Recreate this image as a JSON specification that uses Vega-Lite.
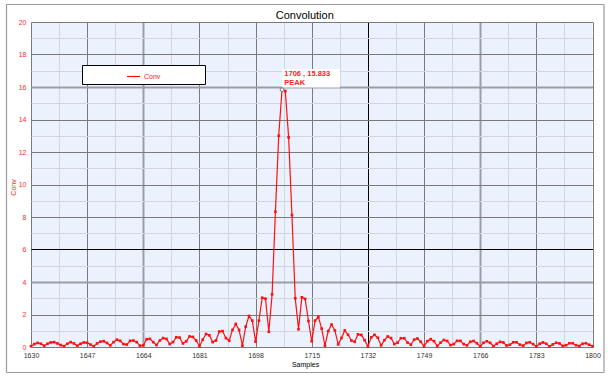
{
  "$schema": "https://vega.github.io/schema/vega-lite/v6.json",
  "autosize": "none",
  "width": 561.5,
  "height": 325,
  "padding": {"left": 31, "top": 22, "right": 20.5, "bottom": 32},
  "background": "white",
  "title": {"text": "Convolution", "font": "Liberation Sans", "fontSize": 11, "fontWeight": "normal", "color": "#000000", "anchor": "middle", "dx": -7, "dy": 29.5, "baseline": "bottom", "offset": 2},
  "config": {"view": {"fill": "#ecf2fd", "stroke": null}, "font": "Liberation Sans"},
  "datasets": {
    "conv": [
      {"sample":1630,"conv":0.05},{"sample":1631,"conv":0.18},{"sample":1632,"conv":0.25},{"sample":1633,"conv":0.2},{"sample":1634,"conv":0.08},
      {"sample":1635,"conv":0.2},{"sample":1636,"conv":0.28},{"sample":1637,"conv":0.3},{"sample":1638,"conv":0.22},{"sample":1639,"conv":0.12},
      {"sample":1640,"conv":0.05},{"sample":1641,"conv":0.2},{"sample":1642,"conv":0.3},{"sample":1643,"conv":0.22},{"sample":1644,"conv":0.08},
      {"sample":1645,"conv":0.2},{"sample":1646,"conv":0.28},{"sample":1647,"conv":0.26},{"sample":1648,"conv":0.15},{"sample":1649,"conv":0.05},
      {"sample":1650,"conv":0.22},{"sample":1651,"conv":0.33},{"sample":1652,"conv":0.36},{"sample":1653,"conv":0.25},{"sample":1654,"conv":0.1},
      {"sample":1655,"conv":0.3},{"sample":1656,"conv":0.45},{"sample":1657,"conv":0.38},{"sample":1658,"conv":0.18},{"sample":1659,"conv":0.15},
      {"sample":1660,"conv":0.38},{"sample":1661,"conv":0.4},{"sample":1662,"conv":0.3},{"sample":1663,"conv":0.08},{"sample":1664,"conv":0.1},
      {"sample":1665,"conv":0.48},{"sample":1666,"conv":0.5},{"sample":1667,"conv":0.3},{"sample":1668,"conv":0.12},{"sample":1669,"conv":0.4},
      {"sample":1670,"conv":0.55},{"sample":1671,"conv":0.5},{"sample":1672,"conv":0.18},{"sample":1673,"conv":0.3},{"sample":1674,"conv":0.6},
      {"sample":1675,"conv":0.58},{"sample":1676,"conv":0.22},{"sample":1677,"conv":0.35},{"sample":1678,"conv":0.65},{"sample":1679,"conv":0.62},
      {"sample":1680,"conv":0.4},{"sample":1681,"conv":0.05},{"sample":1682,"conv":0.45},{"sample":1683,"conv":0.8},{"sample":1684,"conv":0.72},
      {"sample":1685,"conv":0.3},{"sample":1686,"conv":0.4},{"sample":1687,"conv":0.95},{"sample":1688,"conv":0.98},{"sample":1689,"conv":0.55},
      {"sample":1690,"conv":0.39},{"sample":1691,"conv":1.05},{"sample":1692,"conv":1.42},{"sample":1693,"conv":1.05},{"sample":1694,"conv":0.08},
      {"sample":1695,"conv":1.25},{"sample":1696,"conv":1.91},{"sample":1697,"conv":1.62},{"sample":1698,"conv":0.33},{"sample":1699,"conv":1.62},
      {"sample":1700,"conv":3.03},{"sample":1701,"conv":2.97},{"sample":1702,"conv":0.94},{"sample":1703,"conv":3.24},{"sample":1704,"conv":8.33},
      {"sample":1705,"conv":13.0},{"sample":1706,"conv":15.833},{"sample":1707,"conv":15.75},{"sample":1708,"conv":12.9},{"sample":1709,"conv":8.12},
      {"sample":1710,"conv":3.0},{"sample":1711,"conv":1.09},{"sample":1712,"conv":3.06},{"sample":1713,"conv":2.96},{"sample":1714,"conv":1.6},
      {"sample":1715,"conv":0.35},{"sample":1716,"conv":1.62},{"sample":1717,"conv":1.86},{"sample":1718,"conv":1.13},{"sample":1719,"conv":0.08},
      {"sample":1720,"conv":0.98},{"sample":1721,"conv":1.38},{"sample":1722,"conv":1.02},{"sample":1723,"conv":0.16},{"sample":1724,"conv":0.55},
      {"sample":1725,"conv":1.02},{"sample":1726,"conv":0.75},{"sample":1727,"conv":0.4},{"sample":1728,"conv":0.32},{"sample":1729,"conv":0.78},
      {"sample":1730,"conv":0.74},{"sample":1731,"conv":0.42},{"sample":1732,"conv":0.04},{"sample":1733,"conv":0.59},{"sample":1734,"conv":0.75},
      {"sample":1735,"conv":0.57},{"sample":1736,"conv":0.1},{"sample":1737,"conv":0.42},{"sample":1738,"conv":0.65},{"sample":1739,"conv":0.55},
      {"sample":1740,"conv":0.18},{"sample":1741,"conv":0.27},{"sample":1742,"conv":0.54},{"sample":1743,"conv":0.54},{"sample":1744,"conv":0.27},
      {"sample":1745,"conv":0.14},{"sample":1746,"conv":0.45},{"sample":1747,"conv":0.52},{"sample":1748,"conv":0.32},{"sample":1749,"conv":0.05},
      {"sample":1750,"conv":0.36},{"sample":1751,"conv":0.48},{"sample":1752,"conv":0.36},{"sample":1753,"conv":0.06},{"sample":1754,"conv":0.27},
      {"sample":1755,"conv":0.43},{"sample":1756,"conv":0.37},{"sample":1757,"conv":0.12},{"sample":1758,"conv":0.18},{"sample":1759,"conv":0.38},
      {"sample":1760,"conv":0.38},{"sample":1761,"conv":0.18},{"sample":1762,"conv":0.1},{"sample":1763,"conv":0.32},{"sample":1764,"conv":0.37},
      {"sample":1765,"conv":0.23},{"sample":1766,"conv":0.04},{"sample":1767,"conv":0.26},{"sample":1768,"conv":0.35},{"sample":1769,"conv":0.26},
      {"sample":1770,"conv":0.05},{"sample":1771,"conv":0.2},{"sample":1772,"conv":0.32},{"sample":1773,"conv":0.28},{"sample":1774,"conv":0.09},
      {"sample":1775,"conv":0.14},{"sample":1776,"conv":0.29},{"sample":1777,"conv":0.29},{"sample":1778,"conv":0.14},{"sample":1779,"conv":0.08},
      {"sample":1780,"conv":0.25},{"sample":1781,"conv":0.29},{"sample":1782,"conv":0.18},{"sample":1783,"conv":0.03},{"sample":1784,"conv":0.2},
      {"sample":1785,"conv":0.28},{"sample":1786,"conv":0.2},{"sample":1787,"conv":0.04},{"sample":1788,"conv":0.16},{"sample":1789,"conv":0.26},
      {"sample":1790,"conv":0.22},{"sample":1791,"conv":0.07},{"sample":1792,"conv":0.11},{"sample":1793,"conv":0.23},{"sample":1794,"conv":0.23},
      {"sample":1795,"conv":0.11},{"sample":1796,"conv":0.06},{"sample":1797,"conv":0.2},{"sample":1798,"conv":0.23},{"sample":1799,"conv":0.14},
      {"sample":1800,"conv":0.05}
    ],
    "peak": [{"sample":1706,"conv":15.833,"label1":"1706 , 15.833","label2":"PEAK"}]
  },
  "layer": [
    {
      "encoding": {
        "x": {"field": "sample", "type": "quantitative",
          "scale": {"domain": [1630, 1800], "nice": false, "zero": false},
          "axis": {
            "orient": "bottom",
            "values": [1630,1638.5,1647,1655.5,1664,1672.5,1681,1689.5,1698,1706.5,1715,1723.5,1732,1740.5,1749,1757.5,1766,1774.5,1783,1791.5,1800],
            "tickCount": 200,
            "format": "d",
            "labelExpr": "datum.value % 1 === 0 ? datum.label : ''",
            "labelFlush": false, "labelOverlap": false, "labelBound": false,
            "labelFontSize": 7, "labelColor": "#333333", "labelPadding": 4,
            "ticks": false, "domain": false,
            "gridColor": {"condition": [{"test": "datum.value === 1732", "value": "#000000"}, {"test": "datum.value === 1664 || datum.value === 1766", "value": "#9a9da6"}, {"test": "datum.value % 1 !== 0", "value": "#d0d5df"}], "value": "#7a7a7a"},
            "gridWidth": {"condition": [{"test": "datum.value === 1664 || datum.value === 1766", "value": 2}], "value": 1},
            "gridOpacity": 1,
            "title": "Samples", "titleFontSize": 7, "titleFontWeight": "normal", "titleColor": "#000000",
            "titleX": 274, "titleY": 17.5, "titleBaseline": "middle", "titleAnchor": null
          }
        },
        "y": {"field": "conv", "type": "quantitative",
          "scale": {"domain": [0, 20], "nice": false},
          "axis": {
            "orient": "left",
            "values": [0,1,2,3,4,5,6,7,8,9,10,11,12,13,14,15,16,17,18,19,20],
            "tickCount": 200,
            "format": "d",
            "labelExpr": "datum.value % 2 === 0 ? datum.label : ''",
            "labelFlush": false, "labelOverlap": false, "labelBound": false,
            "labelFontSize": 7, "labelColor": "#ff2a2a", "labelPadding": 5,
            "ticks": false, "domain": false,
            "gridColor": {"condition": [{"test": "datum.value === 6", "value": "#000000"}, {"test": "datum.value === 4 || datum.value === 16", "value": "#9a9da6"}, {"test": "datum.value % 2 === 1", "value": "#d0d5df"}], "value": "#7a7a7a"},
            "gridWidth": {"condition": [{"test": "datum.value === 4 || datum.value === 16", "value": 2}], "value": 1},
            "gridOpacity": 1,
            "title": "Conv", "titleFontSize": 7, "titleFontWeight": "normal", "titleColor": "#ff2a2a",
            "titleX": -17.5, "titleY": 165, "titleAngle": -90, "titleBaseline": "middle", "titleAnchor": null
          }
        }
      },
      "layer": [
        {
          "data": {"name": "conv"},
          "mark": {"type": "line", "strokeWidth": 1.2, "point": {"filled": true, "size": 7, "shape": "square"}},
          "encoding": {
            "color": {"datum": "Conv", "type": "nominal",
              "scale": {"range": ["#ff1010"]},
              "legend": {
                "orient": "none", "legendX": 51, "legendY": 43,
                "fillColor": "white", "strokeColor": "#000000", "padding": 4,
                "symbolType": "stroke", "symbolSize": 169, "symbolStrokeWidth": 1.2,
                "labelFontSize": 7, "labelColor": "#ff1010", "labelOffset": 3,
                "labelExpr": "datum.label + '\u2800\u2800\u2800\u2800\u2800\u2800\u2800\u2800'",
                "title": "\u2800\u2800\u2800\u2800\u2800\u2800\u2800\u2800",
                "titleOrient": "left", "titleFontSize": 7, "titlePadding": 0
              }
            }
          }
        },
        {
          "data": {"name": "peak"},
          "mark": {"type": "rect", "fill": "white", "x2Offset": 58, "yOffset": -2.2, "y2Offset": -20.7},
          "encoding": {
            "x2": {"field": "sample"},
            "y2": {"field": "conv"}
          }
        },
        {
          "data": {"name": "peak"},
          "mark": {"type": "point", "shape": "circle", "filled": true, "fill": "white", "stroke": "#777777", "strokeWidth": 1, "size": 14, "opacity": 1}
        },
        {
          "data": {"name": "peak"},
          "mark": {"type": "text", "align": "left", "baseline": "middle", "dx": 2.3, "dy": -16, "fontSize": 7.5, "fontWeight": "bold", "color": "#ff2020"},
          "encoding": {"text": {"field": "label1"}}
        },
        {
          "data": {"name": "peak"},
          "mark": {"type": "text", "align": "left", "baseline": "middle", "dx": 2.3, "dy": -7, "fontSize": 7.5, "fontWeight": "bold", "color": "#ff2020"},
          "encoding": {"text": {"field": "label2"}}
        }
      ]
    },
    {
      "data": {"name": "peak"},
      "mark": {"type": "point", "opacity": 0},
      "encoding": {
        "x": {"field": "sample", "type": "quantitative", "scale": {"domain": [1630, 1800], "range": [-25, 572.5], "nice": false, "zero": false},
          "axis": {"orient": "top", "offset": 18, "domainColor": "#9a9a9a", "domainWidth": 1.2, "labels": false, "ticks": false, "grid": false, "title": null}},
        "y": {"field": "conv", "type": "quantitative", "scale": {"domain": [0, 20], "range": [350, -18], "nice": false, "zero": false},
          "axis": {"orient": "left", "offset": 25, "domainColor": "#9a9a9a", "domainWidth": 1.2, "labels": false, "ticks": false, "grid": false, "title": null}}
      }
    },
    {
      "data": {"name": "peak"},
      "mark": {"type": "point", "opacity": 0},
      "encoding": {
        "x": {"field": "sample", "type": "quantitative", "scale": {"domain": [1630, 1800], "range": [-25, 572.5], "nice": false, "zero": false},
          "axis": {"orient": "bottom", "offset": 25, "domainColor": "#9a9a9a", "domainWidth": 1.2, "labels": false, "ticks": false, "grid": false, "title": null}},
        "y": {"field": "conv", "type": "quantitative", "scale": {"domain": [0, 20], "range": [350, -18], "nice": false, "zero": false},
          "axis": {"orient": "right", "offset": 11, "domainColor": "#9a9a9a", "domainWidth": 1.2, "labels": false, "ticks": false, "grid": false, "title": null}}
      }
    }
  ],
  "resolve": {"scale": {"x": "independent", "y": "independent"}, "axis": {"x": "independent", "y": "independent"}}
}
